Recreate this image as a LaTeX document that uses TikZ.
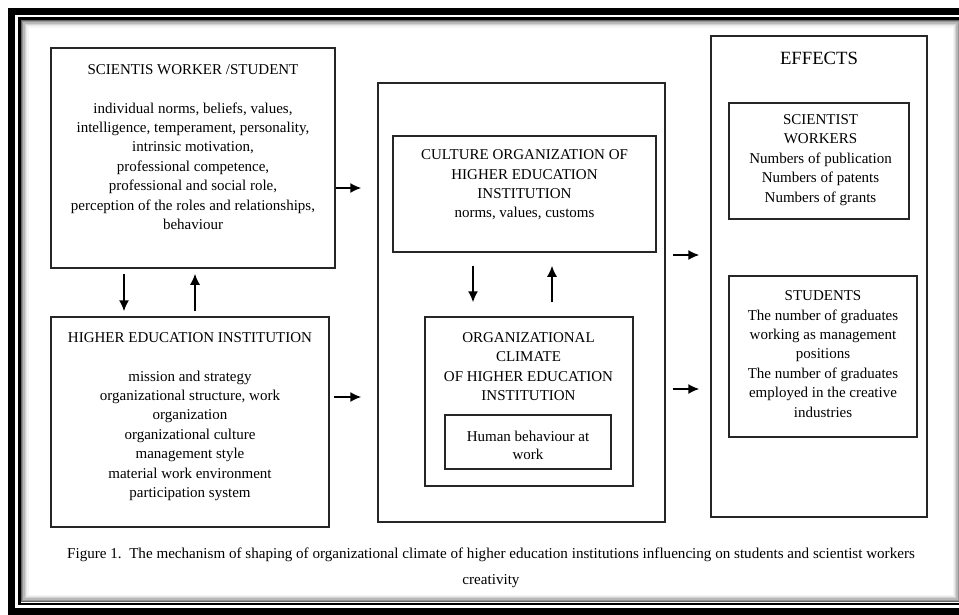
\documentclass[tikz,border=0pt]{standalone}
\usepackage{fontspec}
\setmainfont{Liberation Serif}
\usetikzlibrary{arrows.meta}

\begin{document}
\begin{tikzpicture}[x=1pt, y=-1pt,
  box/.style={draw = black!85, line width = 1.5pt, inner sep = 0pt},
  txt/.style={align = center, inner sep = 0pt, font = \fontsize{15}{19.4}\selectfont},
  arr/.style={line width = 1.5pt, -{Latex[length = 11pt, width = 10pt]}}]

\clip (0,0) rectangle (959,614);
\fill[white] (0,0) rectangle (959,614);

% frame with shadow
\draw[line width = 7pt] (11.5,11) rectangle (975,611);
\draw[line width = 2.5pt] (19.5,18.5) rectangle (962,604);
\foreach \i/\c in {1/60,2/42,3/28,4/17,5/9,6/4}
  \draw[black!\c, line width = 1.3pt] (20.2+1.3*\i,19.2+1.3*\i) rectangle (961-1.3*\i,603-1.3*\i);

% left column
\node[box, minimum width = 284pt, minimum height = 220pt] (sci) at (193,158) {};
\node[txt] (scit) at (193,147) {SCIENTIS WORKER /STUDENT\\[19.4pt]
  individual norms, beliefs, values,\\ intelligence, temperament, personality,\\
  intrinsic motivation,\\ professional competence,\\ professional and social role,\\
  perception of the roles and relationships,\\ behaviour};

\node[box, minimum width = 278pt, minimum height = 210pt] (hei) at (190,422) {};
\node[txt] (heit) at (190,416.5) {HIGHER EDUCATION INSTITUTION\\[19.4pt]
  mission and strategy\\ organizational structure, work\\ organization\\
  organizational culture\\ management style\\ material work environment\\
  participation system};

% middle column
\node[box, minimum width = 287pt, minimum height = 439pt] (mid) at (521.5,302.5) {};
\node[box, minimum width = 263pt, minimum height = 116pt] (cult) at (524.5,194) {};
\node[txt] (cultt) at (524.5,185) {CULTURE ORGANIZATION OF\\ HIGHER EDUCATION\\
  INSTITUTION\\ norms, values, customs};
\node[box, minimum width = 208pt, minimum height = 169pt] (clim) at (529,401.5) {};
\node[txt] (climt) at (528.5,366.5) {ORGANIZATIONAL\\ CLIMATE\\ OF HIGHER EDUCATION\\ INSTITUTION};
\node[box, minimum width = 166pt, minimum height = 54pt] (hum) at (528,442) {};
\node[txt, font = \fontsize{15}{18}\selectfont] (humt) at (528,445) {Human behaviour at\\ work};

% right column
\node[box, minimum width = 216pt, minimum height = 481pt] (eff) at (819,276.5) {};
\node[txt, font = \fontsize{18.7}{22}\selectfont] (efft) at (819,58) {EFFECTS};
\node[box, minimum width = 180pt, minimum height = 116pt] (sciw) at (819,161) {};
\node[txt] (sciwt) at (820.5,160) {SCIENTIST\\ WORKERS\\ Numbers of publication\\
  Numbers of patents\\ Numbers of grants};
\node[box, minimum width = 188pt, minimum height = 161pt] (stud) at (823,356.5) {};
\node[txt] (studt) at (823,354) {STUDENTS\\ The number of graduates\\ working as management\\
  positions\\ The number of graduates\\ employed in the creative\\ industries};

% arrows
\draw[arr, shorten <= 5pt, shorten >= 5pt] (sci.south -| 124,0) -- (hei.north -| 124,0);
\draw[arr, shorten <= 5pt, shorten >= 5pt] (hei.north -| 195,0) -- (sci.south -| 195,0);
\draw[arr, shorten >= 16pt] (sci.east |- 0,188) -- (mid.west |- 0,188);
\draw[arr, shorten <= 4pt, shorten >= 16pt] (hei.east |- 0,397) -- (mid.west |- 0,397);
\draw[arr, shorten <= 13pt, shorten >= 14pt] (cult.south -| 473,0) -- (clim.north -| 473,0);
\draw[arr, shorten <= 14pt, shorten >= 13pt] (clim.north -| 552,0) -- (cult.south -| 552,0);
\draw[arr, shorten <= 7pt, shorten >= 11pt] (mid.east |- 0,255) -- (eff.west |- 0,255);
\draw[arr, shorten <= 7pt, shorten >= 11pt] (mid.east |- 0,389) -- (eff.west |- 0,389);

% caption
\node[txt, font = \fontsize{15.1}{26}\selectfont] (cap) at (491,567.5) {Figure 1.\ \ The mechanism of shaping of organizational climate of higher education institutions influencing on students and scientist workers\\ creativity};
\end{tikzpicture}
\end{document}
